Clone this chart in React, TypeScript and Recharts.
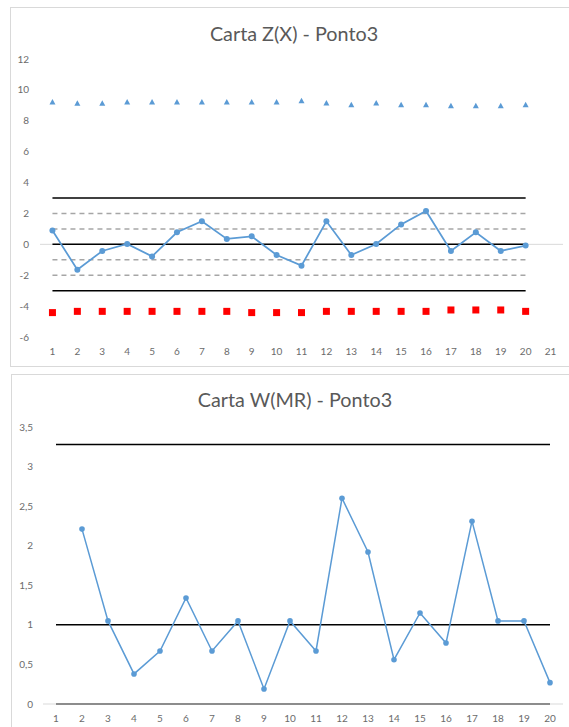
import { Line, LineChart, ReferenceLine, XAxis, YAxis } from 'recharts';

// Carta Z(X)
const samples = [1, 2, 3, 4, 5, 6, 7, 8, 9, 10, 11, 12, 13, 14, 15, 16, 17, 18, 19, 20];
const zValues = [0.89, -1.64, -0.43, 0.02, -0.78, 0.78, 1.49, 0.35, 0.52, -0.69, -1.38, 1.49, -0.69, 0.02, 1.29, 2.16, -0.43, 0.78, -0.43, -0.08];
const zUpper = [9.22, 9.13, 9.13, 9.22, 9.22, 9.22, 9.22, 9.22, 9.22, 9.22, 9.3, 9.15, 9.04, 9.15, 9.04, 9.04, 8.98, 8.98, 8.98, 9.04];
const zLower = [-4.42, -4.34, -4.34, -4.34, -4.34, -4.34, -4.34, -4.34, -4.42, -4.42, -4.42, -4.34, -4.34, -4.34, -4.34, -4.34, -4.25, -4.25, -4.25, -4.34];
const zControl = [3, 0, -3];
const zWarning = [2, 1, -1, -2];
const zTicksX = [1, 2, 3, 4, 5, 6, 7, 8, 9, 10, 11, 12, 13, 14, 15, 16, 17, 18, 19, 20, 21];
const zTicksY = [-6, -4, -2, 0, 2, 4, 6, 8, 10, 12];

// Carta W(MR)
const mrValues = [null, 2.21, 1.05, 0.38, 0.67, 1.34, 0.67, 1.05, 0.19, 1.05, 0.67, 2.6, 1.92, 0.56, 1.15, 0.77, 2.31, 1.05, 1.05, 0.27];
const mrControl = [3.28, 1.0, 0];
const mrTicksX = [1, 2, 3, 4, 5, 6, 7, 8, 9, 10, 11, 12, 13, 14, 15, 16, 17, 18, 19, 20];
const mrTicksY = [0, 0.5, 1, 1.5, 2, 2.5, 3, 3.5];

const zData = samples.map((n, i) => ({ n, z: zValues[i], upper: zUpper[i], lower: zLower[i] }));
const mrData = samples.map((n, i) => ({ n, mr: mrValues[i] }));

const BLUE = '#5B9BD5';
const TICK = { fontSize: 10, fill: '#6b6b6b', fontFamily: 'Lato, sans-serif' };
const first = samples[0];
const last = samples[samples.length - 1];

const Triangle = (props: any) => {
  const { cx, cy } = props;
  if (cx == null || cy == null) return null;
  return <path d={`M${cx},${cy - 3} L${cx + 3},${cy + 2.5} L${cx - 3},${cy + 2.5} Z`} fill={BLUE} />;
};

const Square = (props: any) => {
  const { cx, cy } = props;
  if (cx == null || cy == null) return null;
  return <rect x={cx - 3.5} y={cy - 3.5} width={7} height={7} fill="#FF0000" />;
};

const comma = (v: number) => String(v).replace('.', ',');

export default function App() {
  return (
    <div style={{ position: 'absolute', left: 0, top: 0, width: 569, height: 727, overflow: 'hidden', background: '#fff', fontFamily: 'Lato, sans-serif' }}>
      <div style={{ position: 'absolute', left: 10, top: 7, width: 580, height: 358, border: '1px solid #d9d9d9' }} />
      <div style={{ position: 'absolute', left: 11, top: 374, width: 580, height: 400, border: '1px solid #d9d9d9' }} />

      <div style={{ position: 'absolute', left: 10, top: 21, width: 568, textAlign: 'center', fontSize: 19.8, lineHeight: '24px', color: '#595959' }}>
        Carta Z(X) - Ponto3
      </div>
      <div style={{ position: 'absolute', left: 0, top: 0 }}>
        <LineChart width={569} height={366} data={zData} margin={{ top: 59, right: 6, bottom: 0, left: 0 }}>
          <XAxis
            dataKey="n"
            type="number"
            domain={[0.5, 21.5]}
            ticks={zTicksX}
            interval={0}
            height={29}
            axisLine={false}
            tickLine={false}
            tickSize={0}
            tickMargin={11}
            tick={TICK}
          />
          <YAxis
            type="number"
            domain={[-6, 12]}
            ticks={zTicksY}
            width={40}
            axisLine={false}
            tickLine={false}
            tickSize={0}
            tickMargin={11}
            tick={TICK}
          />
          <ReferenceLine y={0} stroke="#d9d9d9" strokeWidth={1} />
          {zWarning.map((v) => (
            <ReferenceLine key={`w${v}`} segment={[{ x: first, y: v }, { x: last, y: v }]} stroke="#A6A6A6" strokeWidth={1.5} strokeDasharray="5 4" />
          ))}
          {zControl.map((v) => (
            <ReferenceLine key={`c${v}`} segment={[{ x: first, y: v }, { x: last, y: v }]} stroke="#000" strokeWidth={1.5} />
          ))}
          <Line dataKey="upper" stroke="none" dot={<Triangle />} activeDot={false} isAnimationActive={false} />
          <Line dataKey="lower" stroke="none" dot={<Square />} activeDot={false} isAnimationActive={false} />
          <Line dataKey="z" stroke={BLUE} strokeWidth={1.75} dot={{ r: 3, fill: BLUE, stroke: BLUE, strokeWidth: 0 }} activeDot={false} isAnimationActive={false} />
        </LineChart>
      </div>

      <div style={{ position: 'absolute', left: 11, top: 387, width: 568, textAlign: 'center', fontSize: 19.8, lineHeight: '24px', color: '#595959' }}>
        Carta W(MR) - Ponto3
      </div>
      <div style={{ position: 'absolute', left: 0, top: 372 }}>
        <LineChart width={569} height={355} data={mrData} margin={{ top: 55, right: 6, bottom: 0, left: 0 }}>
          <XAxis
            dataKey="n"
            type="number"
            domain={[0.5, 20.5]}
            ticks={mrTicksX}
            interval={0}
            height={23}
            axisLine={{ stroke: '#d9d9d9' }}
            tickLine={false}
            tickSize={0}
            tickMargin={11}
            tick={TICK}
          />
          <YAxis
            type="number"
            domain={[0, 3.5]}
            ticks={mrTicksY}
            width={43}
            axisLine={false}
            tickLine={false}
            tickSize={0}
            tickMargin={10}
            tick={TICK}
            tickFormatter={comma}
          />
          {mrControl.map((v) => (
            <ReferenceLine key={`m${v}`} segment={[{ x: first, y: v }, { x: last, y: v }]} stroke="#000" strokeWidth={1.5} />
          ))}
          <Line dataKey="mr" stroke={BLUE} strokeWidth={1.5} dot={{ r: 2.8, fill: BLUE, stroke: BLUE, strokeWidth: 0 }} activeDot={false} isAnimationActive={false} />
        </LineChart>
      </div>
    </div>
  );
}
